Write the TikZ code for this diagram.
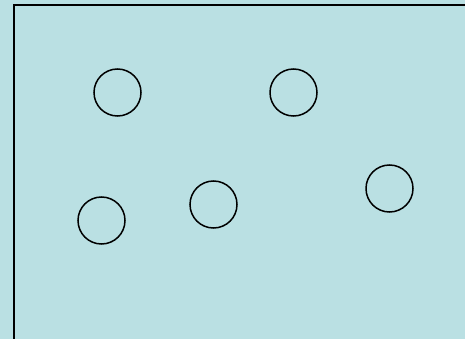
\documentclass[tikz,border=0pt]{standalone}
\usepackage{xcolor}
\usepackage{tikz}
\usetikzlibrary{positioning}
\definecolor{tray@fill}{RGB}{186,224,227}
\tikzset{
  tray/.style={
    x=1pt, y=-1pt,
    line width=1.5pt
  },
  traybox/.style={                 % outer frame of the tray
    draw=black, line width=2pt,
    fill=tray@fill
  },
  spot/.style={                    % empty circle in the tray
    draw=black, line width=1.5pt,
    circle,
    inner sep=0pt,
    minimum size=47pt
  }
}
\begin{document}
\begin{tikzpicture}[tray]
% page background and fixed margins
\fill[tray@fill] (0,0) rectangle (465,339);
\useasboundingbox (0,0) rectangle (465,339);

% frame, running off the right and bottom edges
\begin{scope}
\clip (0,0) rectangle (465,339);
\draw[traybox] (14,5) rectangle (480,360);
\end{scope}

% top row
\node[spot] (topleft) at (117.5,92.5) {};
\node[spot] (topright) at (293.5,92.5) {};

% bottom row
\node[spot] (lowleft) at (101.5,220.5) {};
\node[spot] (lowmid) at (213.5,204.5) {};
\node[spot] (lowright) at (389.5,188.5) {};

\end{tikzpicture}
\end{document}
